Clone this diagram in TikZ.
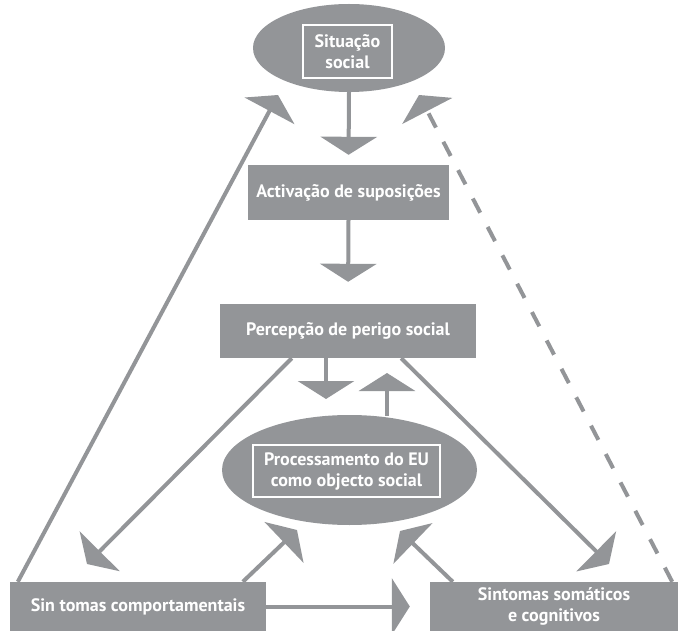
\documentclass[tikz,border=0pt]{standalone}
\usepackage{fontspec}
\setmainfont{PT Sans}
\usetikzlibrary{arrows.meta,shapes.geometric}
\definecolor{dgray}{RGB}{147,149,152}
\tikzset{
  ell/.style={ellipse, fill=dgray, inner sep=0pt},
  ibox/.style={draw=white, line width=1.5pt, fill=dgray, text=white, font=\bfseries\fontsize{18}{21}\selectfont, align=center, inner sep=0pt},
  gbox/.style={fill=dgray, text=white, font=\bfseries\fontsize{18}{21}\selectfont, align=center, inner sep=0pt},
  arr/.style={draw=dgray, line width=4pt, -{Triangle[length=18pt,width=56pt]}},
  darr/.style={arr, dash pattern=on 16pt off 16pt}
}
\begin{document}
\begin{tikzpicture}[x=1pt,y=-1pt]
\useasboundingbox (0,0) rectangle (678,631);
% nodes
\node[ell, minimum width=192pt, minimum height=88pt] (top) at (349,48) {};
\node[ibox, minimum width=89pt, minimum height=53pt] (topin) at (347.5,51.5) {Situação\\social};
\node[gbox, minimum width=201pt, minimum height=55pt] (act) at (348.5,192.5) {Activação de suposições};
\node[gbox, minimum width=256pt, minimum height=54pt] (perc) at (348,331) {Percepção de perigo social};
\node[ell, minimum width=255pt, minimum height=110pt] (mid) at (349.5,470) {};
\node[ibox, minimum width=187pt, minimum height=52pt] (midin) at (346.5,471) {Processamento do EU\\como objecto social};
\node[gbox, minimum width=256pt, minimum height=49pt] (lbox) at (138,606.5) {Sin tomas comportamentais};
\node[gbox, minimum width=248pt, minimum height=49pt] (rbox) at (554,606.5) {Sintomas somáticos\\e cognitivos};
% tip coordinates
\coordinate (t3) at (326,399);
\coordinate (t4) at (387,373);
\coordinate (tl) at (87,564);
\coordinate (tr) at (609,564);
\coordinate (tml) at (297,530);
\coordinate (tmr) at (400,531);
\coordinate (ttl) at (278,95);
\coordinate (ttr) at (419,95);
% connectors
\draw[arr, shorten >=10pt] (top.south) -- (act.north);
\draw[arr, shorten >=22pt] (act.south) -- (perc.north);
\draw[arr] (perc.south -| t3) -- (t3);
\draw[arr] (mid.north -| t4) ++(0,1) -- (t4);
\draw[arr] ([xshift=72pt]perc.south west) -- (tl);
\draw[arr] ([xshift=-75pt]perc.south east) -- (tr);
\draw[arr] ([xshift=233pt]lbox.north west) -- (tml);
\draw[arr] ([xshift=23pt]rbox.north west) -- (tmr);
\draw[arr, shorten >=20pt] (lbox.east) -- (rbox.west);
\draw[arr] ([xshift=8pt]lbox.north west) -- (ttl);
\draw[darr] ([xshift=-6pt]rbox.north east) -- (ttr);
\end{tikzpicture}
\end{document}
